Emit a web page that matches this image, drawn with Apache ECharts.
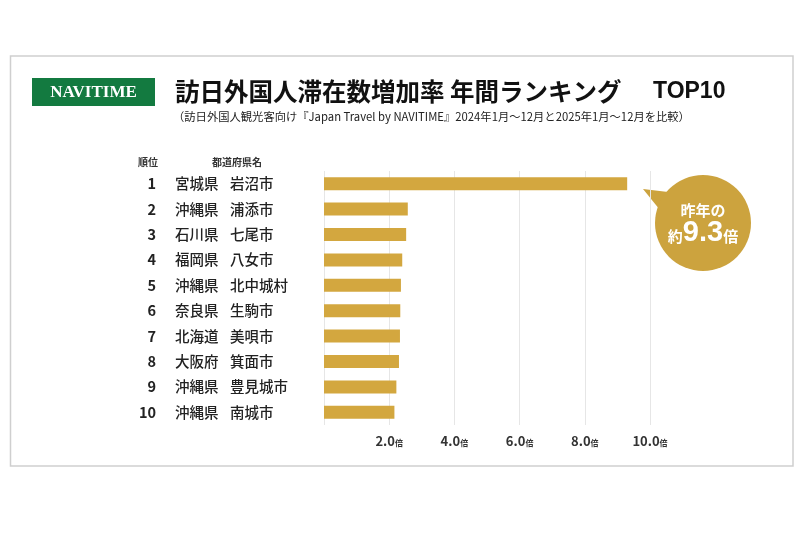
<!DOCTYPE html>
<html>
<head>
<meta charset="utf-8">
<script src="https://cdn.jsdelivr.net/npm/echarts@6/dist/echarts.min.js"></script>
<style>
  html, body { margin: 0; padding: 0; background: #fff; }
  #chart { width: 800px; height: 533px; }
</style>
</head>
<body>
<div id="chart"></div>
<script>
var ranks = ['1', '2', '3', '4', '5', '6', '7', '8', '9', '10'];
var prefectures = ['宮城県', '沖縄県', '石川県', '福岡県', '沖縄県', '奈良県', '北海道', '大阪府', '沖縄県', '沖縄県'];
var cities = ['岩沼市', '浦添市', '七尾市', '八女市', '北中城村', '生駒市', '美唄市', '箕面市', '豊見城市', '南城市'];
var values = [9.3, 2.57, 2.52, 2.40, 2.36, 2.34, 2.33, 2.30, 2.22, 2.16];
var xMax = 10;
var xStep = 2;

var jp = '"Noto Sans CJK JP", "Noto Sans", sans-serif';
var gold = '#d3a73f';

var chart = echarts.init(document.getElementById('chart'), null, { renderer: 'canvas' });

// one label axis per column: rank / prefecture / city
function labelAxis(data, margin, align, weight) {
  return {
    type: 'category',
    data: data,
    inverse: true,
    position: 'left',
    axisLine: { show: false },
    axisTick: { show: false },
    splitLine: { show: false },
    axisLabel: {
      margin: margin,
      align: align,
      fontFamily: jp,
      fontSize: 14.5,
      fontWeight: weight,
      color: '#222'
    }
  };
}

chart.setOption({
  backgroundColor: '#fff',
  animation: false,
  grid: { left: 324, right: 150, top: 171, bottom: 108 },
  xAxis: {
    type: 'value',
    min: 0,
    max: xMax,
    interval: xStep,
    axisLine: { show: false },
    axisTick: { show: false },
    splitLine: { lineStyle: { color: '#e6e6e6', width: 1 } },
    axisLabel: {
      margin: 10,
      fontFamily: jp,
      fontSize: 13,
      fontWeight: 'bold',
      color: '#333',
      formatter: function (v) {
        return v === 0 ? '' : v.toFixed(1) + '{u|倍}';
      },
      rich: { u: { fontFamily: jp, fontSize: 8, fontWeight: 'bold', color: '#333', padding: [3, 0, 0, 0] } }
    }
  },
  yAxis: [
    labelAxis(ranks, 168, 'right', 'bold'),
    labelAxis(prefectures, 149, 'left', 500),
    labelAxis(cities, 94, 'left', 500)
  ],
  series: [{
    type: 'bar',
    yAxisIndex: 0,
    data: values,
    barWidth: 13,
    itemStyle: { color: gold },
    silent: true
  }],
  graphic: [
    // outer frame
    { type: 'rect', shape: { x: 10.5, y: 56, width: 782.5, height: 410 },
      style: { fill: 'none', stroke: '#cfcfcf', lineWidth: 1.5 } },
    // logo
    { type: 'rect', shape: { x: 32, y: 78, width: 123, height: 28 }, style: { fill: '#137a40' } },
    { type: 'text', x: 93.5, y: 92.5,
      style: { text: 'NAVITIME', fill: '#fff', font: 'bold 17px "Liberation Serif", "DejaVu Serif", serif',
        textAlign: 'center', textVerticalAlign: 'middle' } },
    // title
    { type: 'text', x: 175, y: 92,
      style: { text: '訪日外国人滞在数増加率 年間ランキング', fill: '#111',
        font: 'bold 24.5px ' + jp, textVerticalAlign: 'middle' } },
    { type: 'text', x: 653, y: 92,
      style: { text: 'TOP10', fill: '#111', font: 'bold 23px "Liberation Sans", "Noto Sans", sans-serif',
        textVerticalAlign: 'middle' } },
    { type: 'text', x: 173, y: 117,
      style: { text: '（訪日外国人観光客向け『Japan Travel by NAVITIME』2024年1月～12月と2025年1月～12月を比較）',
        fill: '#222', font: '11.3px ' + jp, textVerticalAlign: 'middle' } },
    // column headers
    { type: 'text', x: 148, y: 162,
      style: { text: '順位', fill: '#333', font: 'bold 10px ' + jp, textAlign: 'center', textVerticalAlign: 'middle' } },
    { type: 'text', x: 237, y: 162,
      style: { text: '都道府県名', fill: '#333', font: 'bold 10px ' + jp, textAlign: 'center', textVerticalAlign: 'middle' } },
    // callout bubble
    { type: 'polygon', shape: { points: [[643, 189], [668, 192], [660, 210]] }, style: { fill: '#cca33e' } },
    { type: 'circle', shape: { cx: 703, cy: 223, r: 48 }, style: { fill: '#cca33e' } },
    { type: 'text', x: 703, y: 210,
      style: { text: '昨年の', fill: '#fff', font: 'bold 15px ' + jp, textAlign: 'center', textVerticalAlign: 'middle' } },
    { type: 'text', x: 703, y: 233,
      style: {
        text: '{a|約}{b|' + values[0].toFixed(1) + '}{a|倍}',
        textAlign: 'center', textVerticalAlign: 'middle',
        rich: {
          a: { fill: '#fff', font: 'bold 15px ' + jp, padding: [6, 0, 0, 0] },
          b: { fill: '#fff', font: 'bold 29px "Liberation Sans", "Noto Sans", sans-serif' }
        }
      } }
  ]
});
</script>
</body>
</html>
